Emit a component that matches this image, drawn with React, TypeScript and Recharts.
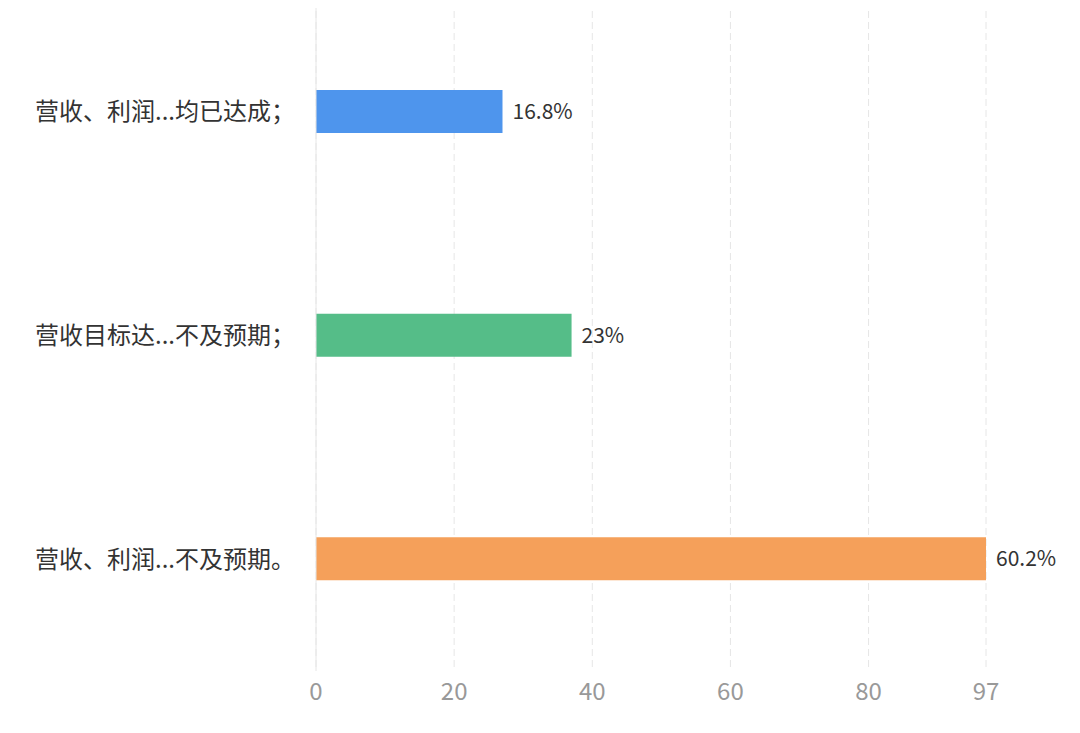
import React from 'react'
import { BarChart, Bar, XAxis, YAxis, CartesianGrid, Cell, LabelList, ReferenceLine } from 'recharts'

const categories = ['营收、利润...均已达成；', '营收目标达...不及预期；', '营收、利润...不及预期。']
const counts = [27, 37, 97]
const shares = ['16.8%', '23%', '60.2%']
const xTicks = [0, 20, 40, 60, 80, 97]

const COLORS = ['#4e95ed', '#55bd88', '#f5a05a']
const FONT = '"Noto Sans CJK SC", "Noto Sans", sans-serif'

const data = categories.map((name, i) => ({ name, value: counts[i], share: shares[i] }))

export default function App() {
  return (
    <div style={{ margin: -8, width: 1080, height: 733, background: '#fff', fontFamily: FONT }}>
      <BarChart
        width={1080}
        height={733}
        data={data}
        layout="vertical"
        margin={{ top: 0, right: 94, bottom: 0, left: 0 }}
        barSize={43}
      >
        <CartesianGrid horizontal={false} stroke="#e6e6e6" strokeDasharray="7 4" />
        <ReferenceLine x={0} stroke="#e6e6e6" />
        <XAxis
          type="number"
          domain={[0, 97]}
          ticks={xTicks}
          axisLine={false}
          tickLine={false}
          tickSize={0}
          tickMargin={12}
          height={62}
          tick={{ fill: '#999', fontSize: 24, fontFamily: FONT }}
        />
        <YAxis
          type="category"
          dataKey="name"
          width={316}
          axisLine={false}
          tickLine={false}
          tickSize={0}
          tickMargin={21}
          tick={{ fill: '#333', fontSize: 24, fontFamily: FONT }}
        />
        <Bar dataKey="value" isAnimationActive={false}>
          {data.map((_, idx) => (
            <Cell key={idx} fill={COLORS[idx]} />
          ))}
          <LabelList
            dataKey="share"
            position="right"
            offset={10}
            style={{ fill: '#333', fontSize: 21, fontFamily: FONT }}
          />
        </Bar>
      </BarChart>
    </div>
  )
}
